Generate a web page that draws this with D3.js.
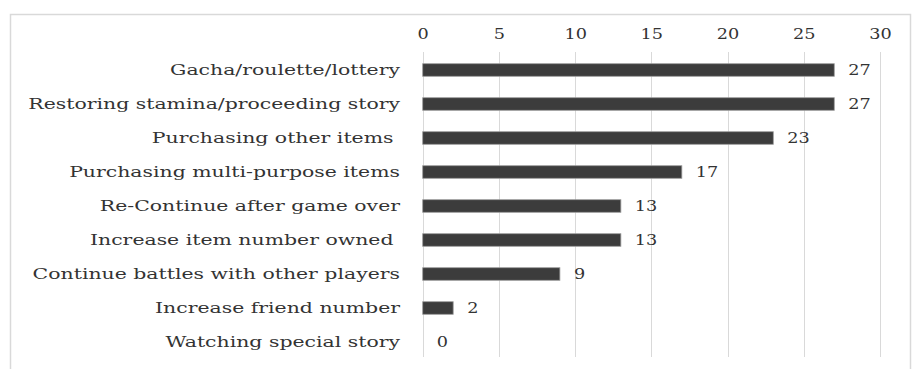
<!DOCTYPE html>
<html><head><meta charset="utf-8">
<script src="https://cdn.jsdelivr.net/npm/d3@7"></script>
<style>
html,body{margin:0;padding:0;background:#fff;}
svg text{font-family:"DejaVu Serif","Liberation Serif",serif;fill:#333;white-space:pre;}
</style></head>
<body>
<svg id="chart" width="912" height="369"></svg>
<script>
const categories = [
  "Gacha/roulette/lottery",
  "Restoring stamina/proceeding story",
  "Purchasing other items ",
  "Purchasing multi-purpose items",
  "Re-Continue after game over",
  "Increase item number owned ",
  "Continue battles with other players",
  "Increase friend number",
  "Watching special story"
];
const values = [27, 27, 23, 17, 13, 13, 9, 2, 0];
const tickValues = [0, 5, 10, 15, 20, 25, 30];

const svg = d3.select("#chart");
svg.append("rect").attr("x", 10.5).attr("y", 14.5).attr("width", 900).attr("height", 420)
  .attr("fill", "none").attr("stroke", "#d9d9d9").attr("stroke-width", 1.5);

const x = d3.scaleLinear().domain([0, 30]).range([422.7, 880]);
const y = d3.scaleBand().domain(categories).range([53, 359]).paddingInner(0.63).paddingOuter(0.315);

svg.append("g").selectAll("line").data(tickValues).join("line")
  .attr("x1", d => Math.round(x(d)) + 0.5).attr("x2", d => Math.round(x(d)) + 0.5)
  .attr("y1", 52).attr("y2", 357)
  .attr("stroke", "#d9d9d9").attr("stroke-width", 1);

const numScale = 1.22;
// top axis tick labels
const axis = d3.axisTop(x).tickValues(tickValues).tickSize(0).tickPadding(0);
const ag = svg.append("g").attr("transform", "translate(0,39)").call(axis);
ag.select(".domain").remove();
ag.selectAll("text").attr("font-size", 14.5).attr("fill", "#333").attr("dy", 0)
  .attr("transform", `scale(${numScale},1)`)
  .style("font-family", '"DejaVu Serif",serif');

svg.append("g").selectAll("rect").data(values).join("rect")
  .attr("x", x(0)).attr("y", (d, i) => y(categories[i]))
  .attr("width", d => x(d) - x(0)).attr("height", y.bandwidth())
  .attr("fill", "#3c3c3c").attr("stroke", "#9a9a9a").attr("stroke-width", 0.8)
  .attr("visibility", d => d > 0 ? "visible" : "hidden");

svg.append("g").selectAll("text").data(values).join("text")
  .attr("transform", (d, i) => `translate(${x(d) + 14},${y(categories[i]) + y.bandwidth() / 2}) scale(${numScale},1)`)
  .attr("dy", "0.36em").attr("font-size", 14.5).text(d => d);

// category labels, stretched horizontally to the reference's wide face
const labelSize = 14.5;
const catG = svg.append("g");
const cats = catG.selectAll("text").data(categories).join("text")
  .attr("text-anchor", "end").attr("font-size", labelSize).attr("dy", "0.36em")
  .text(d => d);
let maxW = 0;
cats.each(function () { maxW = Math.max(maxW, this.getComputedTextLength()); });
const sx = 372 / maxW;
cats.attr("transform", d => `translate(400,${y(d) + y.bandwidth() / 2}) scale(${sx},1)`);
</script>
</body></html>
